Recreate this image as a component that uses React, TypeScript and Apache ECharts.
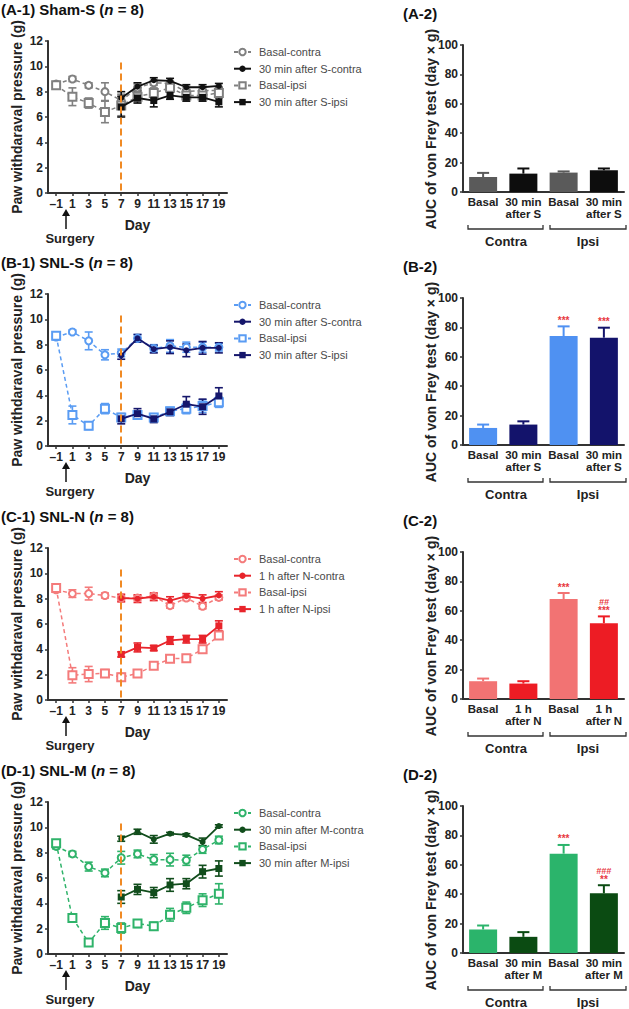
import React, { useEffect, useRef } from 'react';
import * as echarts from 'echarts';

// ---------- shared categories ----------
const DAYS = ['–1', '1', '3', '5', '7', '9', '11', '13', '15', '17', '19'];
const BAR_CATS = ['Contra-Basal', 'Contra-After', 'Ipsi-Basal', 'Ipsi-After'];
const Y_LINE_TICKS = [0, 2, 4, 6, 8, 10, 12];
const Y_BAR_TICKS = [0, 20, 40, 60, 80, 100];
const N = null;

// ---------- (A) Sham-S ----------
const A_BASAL_CONTRA = [8.6, 9.0, 8.5, 8.0, 7.3, 8.3, 8.7, 8.65, 8.0, 8.1, 8.1];
const A_BASAL_CONTRA_SEM = [0.2, 0.2, 0.2, 0.7, 0.5, 0.3, 0.2, 0.2, 0.3, 0.3, 0.3];
const A_BASAL_IPSI = [8.5, 7.6, 7.1, 6.4, 6.9, 7.6, 7.9, 8.3, 7.7, 7.7, 7.9];
const A_BASAL_IPSI_SEM = [0.2, 0.7, 0.4, 0.85, 0.8, 0.4, 0.4, 0.3, 0.3, 0.3, 0.4];
const A_AFTER_CONTRA = [N, N, N, N, 7.5, 8.4, 8.9, 8.85, 8.35, 8.35, 8.45];
const A_AFTER_CONTRA_SEM = [N, N, N, N, 0.5, 0.3, 0.2, 0.2, 0.2, 0.2, 0.2];
const A_AFTER_IPSI = [N, N, N, N, 6.8, 7.5, 7.3, 7.7, 7.55, 7.55, 7.2];
const A_AFTER_IPSI_SEM = [N, N, N, N, 0.8, 0.4, 0.5, 0.3, 0.3, 0.3, 0.4];
const A_AUC = [10.2, 12.5, 13.2, 14.8];
const A_AUC_SEM = [2.8, 3.5, 0.8, 1.2];
const A_STARS = ['', '', '', ''];
const A_HASH = ['', '', '', ''];

// ---------- (B) SNL-S ----------
const B_BASAL_CONTRA = [8.6, 9.0, 8.3, 7.2, 7.35, 8.5, 7.7, 7.9, 7.8, 7.8, 7.8];
const B_BASAL_CONTRA_SEM = [0.2, 0.15, 0.7, 0.4, 0.3, 0.3, 0.3, 0.5, 0.4, 0.4, 0.3];
const B_BASAL_IPSI = [8.7, 2.45, 1.6, 2.95, 2.25, 2.45, 2.25, 2.75, 2.95, 3.15, 3.45];
const B_BASAL_IPSI_SEM = [0.3, 0.7, 0.3, 0.4, 0.3, 0.3, 0.3, 0.3, 0.4, 0.5, 0.4];
const B_AFTER_CONTRA = [N, N, N, N, 7.15, 8.5, 7.65, 7.8, 7.55, 7.75, 7.75];
const B_AFTER_CONTRA_SEM = [N, N, N, N, 0.3, 0.3, 0.3, 0.5, 0.5, 0.5, 0.4];
const B_AFTER_IPSI = [N, N, N, N, 2.15, 2.55, 2.15, 2.7, 3.3, 3.1, 3.95];
const B_AFTER_IPSI_SEM = [N, N, N, N, 0.4, 0.4, 0.3, 0.3, 0.6, 0.6, 0.65];
const B_AUC = [11.6, 13.9, 74.1, 73.0];
const B_AUC_SEM = [2.3, 2.2, 6.6, 6.8];
const B_STARS = ['', '', '***', '***'];
const B_HASH = ['', '', '', ''];

// ---------- (C) SNL-N ----------
const C_BASAL_CONTRA = [8.7, 8.4, 8.4, 8.25, 8.05, 8.05, 8.2, 7.45, 8.05, 7.4, 8.1];
const C_BASAL_CONTRA_SEM = [0.2, 0.3, 0.5, 0.2, 0.2, 0.2, 0.2, 0.2, 0.2, 0.2, 0.2];
const C_BASAL_IPSI = [8.85, 1.95, 2.05, 2.1, 1.8, 2.1, 2.7, 3.25, 3.3, 4.0, 5.1];
const C_BASAL_IPSI_SEM = [0.2, 0.6, 0.6, 0.3, 0.3, 0.2, 0.2, 0.2, 0.2, 0.3, 0.3];
const C_AFTER_CONTRA = [N, N, N, N, 8.05, 8.0, 8.15, 7.85, 8.2, 8.0, 8.25];
const C_AFTER_CONTRA_SEM = [N, N, N, N, 0.3, 0.3, 0.3, 0.3, 0.2, 0.3, 0.3];
const C_AFTER_IPSI = [N, N, N, N, 3.6, 4.15, 4.1, 4.7, 4.8, 4.8, 5.85];
const C_AFTER_IPSI_SEM = [N, N, N, N, 0.2, 0.35, 0.2, 0.3, 0.3, 0.3, 0.4];
const C_AUC = [12.1, 10.5, 68.0, 51.6];
const C_AUC_SEM = [1.8, 1.6, 4.1, 4.6];
const C_STARS = ['', '', '***', '***'];
const C_HASH = ['', '', '', '##'];

// ---------- (D) SNL-M ----------
const D_BASAL_CONTRA = [8.5, 7.9, 6.9, 6.4, 7.6, 7.9, 7.45, 7.45, 7.4, 8.25, 9.0];
const D_BASAL_CONTRA_SEM = [0.2, 0.2, 0.35, 0.3, 0.5, 0.3, 0.4, 0.5, 0.4, 0.3, 0.3];
const D_BASAL_IPSI = [8.75, 2.85, 0.9, 2.45, 2.05, 2.4, 2.2, 3.1, 3.65, 4.25, 4.75];
const D_BASAL_IPSI_SEM = [0.2, 0.3, 0.15, 0.5, 0.4, 0.3, 0.3, 0.5, 0.45, 0.5, 0.8];
const D_AFTER_CONTRA = [N, N, N, N, 9.1, 9.65, 9.05, 9.5, 9.4, 8.85, 10.1];
const D_AFTER_CONTRA_SEM = [N, N, N, N, 0.2, 0.2, 0.3, 0.1, 0.1, 0.3, 0.1];
const D_AFTER_IPSI = [N, N, N, N, 4.5, 5.1, 4.85, 5.45, 5.55, 6.5, 6.75];
const D_AFTER_IPSI_SEM = [N, N, N, N, 0.5, 0.4, 0.4, 0.5, 0.4, 0.5, 0.6];
const D_AUC = [16.0, 11.0, 67.6, 40.6];
const D_AUC_SEM = [2.7, 3.2, 5.9, 5.5];
const D_STARS = ['', '', '***', '**'];
const D_HASH = ['', '', '', '###'];

const FONT = 'Liberation Sans, Arial, Helvetica, sans-serif';
const SIG_RED = '#e8393f';

const PANELS = [
  {
    key: 'A', title: 'Sham-S', after: '30 min after S', barAfter: '30 min\nafter S',
    basal: '#808080', afterC: '#111111', barBasal: '#5a5a5a', barAfterC: '#0d0d0d',
    bc: A_BASAL_CONTRA, bcs: A_BASAL_CONTRA_SEM, bi: A_BASAL_IPSI, bis: A_BASAL_IPSI_SEM,
    ac: A_AFTER_CONTRA, acs: A_AFTER_CONTRA_SEM, ai: A_AFTER_IPSI, ais: A_AFTER_IPSI_SEM,
    auc: A_AUC, aucs: A_AUC_SEM, stars: A_STARS, hash: A_HASH,
  },
  {
    key: 'B', title: 'SNL-S', after: '30 min after S', barAfter: '30 min\nafter S',
    basal: '#5a9cf3', afterC: '#15166b', barBasal: '#4f91f2', barAfterC: '#13136b',
    bc: B_BASAL_CONTRA, bcs: B_BASAL_CONTRA_SEM, bi: B_BASAL_IPSI, bis: B_BASAL_IPSI_SEM,
    ac: B_AFTER_CONTRA, acs: B_AFTER_CONTRA_SEM, ai: B_AFTER_IPSI, ais: B_AFTER_IPSI_SEM,
    auc: B_AUC, aucs: B_AUC_SEM, stars: B_STARS, hash: B_HASH,
  },
  {
    key: 'C', title: 'SNL-N', after: '1 h after N', barAfter: '1 h\nafter N',
    basal: '#f47b7b', afterC: '#e8242b', barBasal: '#f27373', barAfterC: '#ed1c24',
    bc: C_BASAL_CONTRA, bcs: C_BASAL_CONTRA_SEM, bi: C_BASAL_IPSI, bis: C_BASAL_IPSI_SEM,
    ac: C_AFTER_CONTRA, acs: C_AFTER_CONTRA_SEM, ai: C_AFTER_IPSI, ais: C_AFTER_IPSI_SEM,
    auc: C_AUC, aucs: C_AUC_SEM, stars: C_STARS, hash: C_HASH,
  },
  {
    key: 'D', title: 'SNL-M', after: '30 min after M', barAfter: '30 min\nafter M',
    basal: '#2fb36a', afterC: '#114d1c', barBasal: '#2bb46b', barAfterC: '#0b4b12',
    bc: D_BASAL_CONTRA, bcs: D_BASAL_CONTRA_SEM, bi: D_BASAL_IPSI, bis: D_BASAL_IPSI_SEM,
    ac: D_AFTER_CONTRA, acs: D_AFTER_CONTRA_SEM, ai: D_AFTER_IPSI, ais: D_AFTER_IPSI_SEM,
    auc: D_AUC, aucs: D_AUC_SEM, stars: D_STARS, hash: D_HASH,
  },
];

const ROW_OFF = [0, 253, 507, 761];
const AXIS_COLOR = '#333333';

function errData(vals: (number | null)[], sems: (number | null)[]) {
  const out: number[][] = [];
  vals.forEach((v, i) => {
    if (v == null || sems[i] == null) return;
    out.push([i, v - (sems[i] as number), v + (sems[i] as number)]);
  });
  return out;
}

function lineErrRender(color: string) {
  return (_p: any, api: any) => {
    const i = api.value(0);
    const a = api.coord([i, api.value(1)]);
    const b = api.coord([i, api.value(2)]);
    const w = 4;
    const st = { stroke: color, lineWidth: 1.6 };
    return {
      type: 'group',
      children: [
        { type: 'line', shape: { x1: a[0], y1: a[1], x2: b[0], y2: b[1] }, style: st },
        { type: 'line', shape: { x1: a[0] - w, y1: a[1], x2: a[0] + w, y2: a[1] }, style: st },
        { type: 'line', shape: { x1: b[0] - w, y1: b[1], x2: b[0] + w, y2: b[1] }, style: st },
      ],
    };
  };
}

function barErrRender(colors: string[], stars: string[], hash: string[]) {
  return (_p: any, api: any) => {
    const i = api.value(0);
    const v = api.value(1);
    const e = api.value(2);
    const a = api.coord([i, v]);
    const b = api.coord([i, v + e]);
    const c = colors[i % 2];
    const st = { stroke: c, lineWidth: 2 };
    const children: any[] = [
      { type: 'line', shape: { x1: a[0], y1: a[1], x2: b[0], y2: b[1] }, style: st },
      { type: 'line', shape: { x1: b[0] - 6, y1: b[1], x2: b[0] + 6, y2: b[1] }, style: st },
    ];
    if (stars[i]) {
      children.push({
        type: 'text', x: b[0], y: b[1] - 1,
        style: { text: stars[i], fill: SIG_RED, fontSize: 10, fontWeight: 'bold', fontFamily: FONT, align: 'center', verticalAlign: 'bottom' },
      });
    }
    if (hash[i]) {
      children.push({
        type: 'text', x: b[0], y: b[1] - 10,
        style: { text: hash[i], fill: SIG_RED, fontSize: 9, fontStyle: 'italic', fontWeight: 'bold', fontFamily: FONT, align: 'center', verticalAlign: 'bottom' },
      });
    }
    return { type: 'group', children };
  };
}

function buildOption() {
  const grid: any[] = [];
  const xAxis: any[] = [];
  const yAxis: any[] = [];
  const series: any[] = [];
  const legend: any[] = [];
  const graphic: any[] = [];

  const axisLine = { show: true, lineStyle: { color: AXIS_COLOR, width: 2 } };
  const axisTick = { show: true, length: 3, lineStyle: { color: AXIS_COLOR, width: 1.5 } };
  const tickLabel = { fontSize: 12, fontWeight: 'bold', color: '#222', fontFamily: FONT };
  const nameStyle = { fontSize: 14, fontWeight: 'bold', color: '#222', fontFamily: FONT };

  PANELS.forEach((p, r) => {
    const off = ROW_OFF[r];
    const gl = 2 * r;
    const gb = 2 * r + 1;

    // ----- line panel -----
    grid.push({ left: 48, top: 41 + off, width: 179, height: 152 });
    xAxis.push({
      type: 'category', gridIndex: gl, data: DAYS, boundaryGap: true,
      axisLine, axisTick: { ...axisTick, alignWithLabel: true, interval: 0 },
      axisLabel: { ...tickLabel, interval: 0, margin: 5 },
      name: 'Day', nameLocation: 'middle', nameGap: 25, nameTextStyle: nameStyle,
      splitLine: { show: false },
    });
    yAxis.push({
      type: 'value', gridIndex: gl, min: Y_LINE_TICKS[0], max: Y_LINE_TICKS[Y_LINE_TICKS.length - 1], interval: 2,
      axisLine, axisTick, axisLabel: { ...tickLabel, margin: 5 }, splitLine: { show: false },
      name: 'Paw withdaraval pressure (g)', nameLocation: 'middle', nameGap: 24, nameRotate: 90,
      nameTextStyle: nameStyle,
    });

    const nBC = `${p.key}:Basal-contra`;
    const nAC = `${p.key}:${p.after}-contra`;
    const nBI = `${p.key}:Basal-ipsi`;
    const nAI = `${p.key}:${p.after}-ipsi`;

    const errSeries = (vals: any, sems: any, color: string) => ({
      type: 'custom', xAxisIndex: gl, yAxisIndex: gl, data: errData(vals, sems),
      renderItem: lineErrRender(color), z: 2, silent: true,
    });
    series.push(errSeries(p.bc, p.bcs, p.basal));
    series.push(errSeries(p.bi, p.bis, p.basal));

    series.push({
      name: nBC, type: 'line', xAxisIndex: gl, yAxisIndex: gl, data: p.bc,
      symbol: 'emptyCircle', symbolSize: 7, color: p.basal,
      lineStyle: { color: p.basal, width: 1.5, type: [4, 3] },
      itemStyle: { color: p.basal, borderWidth: 1.6 }, z: 3,
      markLine: {
        silent: true, symbol: 'none', label: { show: false },
        lineStyle: { color: '#f08a24', type: [7, 4], width: 2 },
        data: [[{ coord: ['7', 10.3] }, { coord: ['7', 0] }]],
      },
    });
    series.push({
      name: nBI, type: 'line', xAxisIndex: gl, yAxisIndex: gl, data: p.bi,
      symbol: 'emptyRect', symbolSize: 8, color: p.basal,
      lineStyle: { color: p.basal, width: 1.5, type: [4, 3] },
      itemStyle: { color: p.basal, borderWidth: 1.6 }, z: 3,
    });
    series.push(errSeries(p.ac, p.acs, p.afterC));
    series.push(errSeries(p.ai, p.ais, p.afterC));
    series.push({
      name: nAC, type: 'line', xAxisIndex: gl, yAxisIndex: gl, data: p.ac,
      symbol: 'circle', symbolSize: 6, color: p.afterC,
      lineStyle: { color: p.afterC, width: 1.8 },
      itemStyle: { color: p.afterC }, z: 4,
    });
    series.push({
      name: nAI, type: 'line', xAxisIndex: gl, yAxisIndex: gl, data: p.ai,
      symbol: 'rect', symbolSize: 7, color: p.afterC,
      lineStyle: { color: p.afterC, width: 1.8 },
      itemStyle: { color: p.afterC }, z: 4,
    });

    legend.push({
      left: 233, top: 46 + off, orient: 'vertical', itemWidth: 17, itemHeight: 8, itemGap: 4.7,
      padding: 0, selectedMode: false, data: [nBC, nAC, nBI, nAI],
      formatter: (n: string) => n.slice(2),
      textStyle: { fontSize: 11, color: '#4a4a4a', fontFamily: FONT, lineHeight: 12, padding: [0, 0, 0, 3] },
    });

    // ----- bar panel -----
    grid.push({ left: 463, top: 45 + off, width: 161, height: 147 });
    const barLabels = ['Basal', p.barAfter, 'Basal', p.barAfter];
    xAxis.push({
      type: 'category', gridIndex: gb, data: BAR_CATS, boundaryGap: true,
      axisLine, axisTick: { show: false },
      axisLabel: { ...tickLabel, fontSize: 11.5, interval: 0, margin: 4, lineHeight: 12, formatter: (_v: string, i: number) => barLabels[i] },
      splitLine: { show: false },
    });
    yAxis.push({
      type: 'value', gridIndex: gb, min: Y_BAR_TICKS[0], max: Y_BAR_TICKS[Y_BAR_TICKS.length - 1], interval: 20,
      axisLine, axisTick, axisLabel: { ...tickLabel, margin: 5 }, splitLine: { show: false },
    });
    const barColors = [p.barBasal, p.barAfterC];
    series.push({
      type: 'bar', xAxisIndex: gb, yAxisIndex: gb, barWidth: 28, silent: true,
      data: p.auc.map((v, i) => ({ value: v, itemStyle: { color: barColors[i % 2] } })),
      z: 2,
    });
    series.push({
      type: 'custom', xAxisIndex: gb, yAxisIndex: gb, silent: true, z: 3,
      data: p.auc.map((v, i) => [i, v, p.aucs[i]]),
      renderItem: barErrRender(barColors, p.stars, p.hash),
    });

    // ----- decorations -----
    const tStyle = { fontSize: 15, fontWeight: 'bold', fontFamily: FONT, fill: '#111' };
    graphic.push({
      type: 'text', x: 1, y: 9 + off,
      style: {
        text: `{b|(${p.key}-1) ${p.title} (}{i|n}{b| = 8)}`,
        verticalAlign: 'middle',
        rich: { b: { ...tStyle }, i: { ...tStyle, fontStyle: 'italic' } },
      },
    });
    graphic.push({
      type: 'text', x: 403, y: 13 + off,
      style: { text: `(${p.key}-2)`, verticalAlign: 'middle', ...tStyle },
    });
    // Surgery arrow
    graphic.push({
      type: 'line', shape: { x1: 66, y1: 229 + off, x2: 66, y2: 214 + off },
      style: { stroke: '#111', lineWidth: 1.5 },
    });
    graphic.push({
      type: 'polygon', shape: { points: [[62, 216 + off], [70, 216 + off], [66, 209 + off]] },
      style: { fill: '#111' },
    });
    graphic.push({
      type: 'text', x: 70, y: 238 + off,
      style: { text: 'Surgery', fontSize: 13, fontWeight: 'bold', fontFamily: FONT, fill: '#222', align: 'center', verticalAlign: 'middle' },
    });
    // bar y-axis name
    graphic.push({
      type: 'text', x: 431, y: 129 + off, rotation: Math.PI / 2,
      style: { text: 'AUC of von Frey test (day × g)', fontSize: 14, fontWeight: 'bold', fontFamily: FONT, fill: '#222', align: 'center', verticalAlign: 'middle' },
    });
    // group brackets
    const by = 229 + off;
    graphic.push({
      type: 'polyline', shape: { points: [[468, by - 4], [468, by], [543, by], [543, by - 4]] },
      style: { stroke: '#333', lineWidth: 1.3, fill: null },
    });
    graphic.push({
      type: 'polyline', shape: { points: [[550, by - 4], [550, by], [626, by], [626, by - 4]] },
      style: { stroke: '#333', lineWidth: 1.3, fill: null },
    });
    graphic.push({
      type: 'text', x: 506, y: 241 + off,
      style: { text: 'Contra', fontSize: 13, fontWeight: 'bold', fontFamily: FONT, fill: '#222', align: 'center', verticalAlign: 'middle' },
    });
    graphic.push({
      type: 'text', x: 588, y: 241 + off,
      style: { text: 'Ipsi', fontSize: 13, fontWeight: 'bold', fontFamily: FONT, fill: '#222', align: 'center', verticalAlign: 'middle' },
    });
  });

  return {
    animation: false,
    backgroundColor: '#ffffff',
    textStyle: { fontFamily: FONT },
    grid, xAxis, yAxis, series, legend, graphic,
  };
}

export default function App() {
  const ref = useRef<HTMLDivElement>(null);
  useEffect(() => {
    if (!ref.current) return;
    const chart = echarts.init(ref.current, undefined, { renderer: 'svg' });
    chart.setOption(buildOption() as any);
    return () => chart.dispose();
  }, []);
  return (
    <div
      ref={ref}
      style={{ position: 'absolute', left: 0, top: 0, width: 629, height: 1009, background: '#fff' }}
    />
  );
}
